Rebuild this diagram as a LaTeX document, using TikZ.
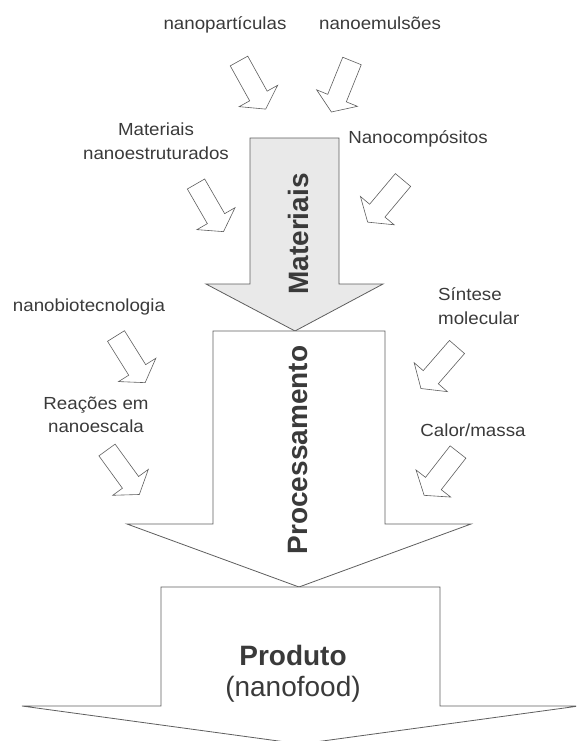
\documentclass[tikz,border=0pt]{standalone}
\usepackage{fontspec}
\setmainfont{Liberation Sans}
\newfontfamily\labelfont[FakeStretch=1.07]{Liberation Sans}
\usepackage{tikz}
\usetikzlibrary{positioning,calc}

\definecolor{txtgray}{HTML}{3A3A3A}
\definecolor{linegray}{HTML}{5E5E5E}
\definecolor{fillgray}{HTML}{E9E9E9}

\tikzset{
  lbl/.style={font=\labelfont\fontsize{17.5}{23.5}\selectfont, text=txtgray, inner sep=0pt},
  bigl/.style={font=\bfseries\fontsize{28}{31}\selectfont, text=txtgray, inner sep=0pt},
  bigarrow/.style={draw=linegray, line width=0.8pt, line join=miter},
  smallarrow/.style={draw=linegray, line width=0.6pt, fill=white}
}

\begin{document}
\begin{tikzpicture}[x=1pt,y=-1pt]
\useasboundingbox (0,0) rectangle (576,741);
\clip (0,0) rectangle (576,741);

% big arrows
\draw[bigarrow, fill=fillgray] (250,138) -- (339,138) -- (339,284) -- (383,284) -- (295,331) -- (206,284) -- (250,284) -- cycle;
\draw[bigarrow, fill=white] (213,331) -- (385,331) -- (385,524) -- (471,524) -- (299,587) -- (127,524) -- (213,524) -- cycle;
\draw[bigarrow, fill=white] (161,587) -- (440,587) -- (440,706) -- (579,706) -- (300.5,744) -- (22,706) -- (161,706) -- cycle;

% small hollow arrows
\foreach \tx/\ty/\ang in {239/61/-61, 352/61/-112, 196/184/-60, 403/180/-130,
                          116/336/-58, 107/450/-54, 457/347/-131, 458/452/-128}
  \draw[smallarrow, shift={(\tx,\ty)}, rotate=\ang]
    (0,-10) -- (40,-10) -- (40,-22) -- (55,0) -- (40,22) -- (40,10) -- (0,10) -- cycle;

% labels
\node[lbl, anchor=base] (npart) at (225,30) {nanopartículas};
\node[lbl, anchor=base] (nemul) at (380,30) {nanoemulsões};
\node[lbl, align=center] (matnano) at (156,141) {Materiais\\nanoestruturados};
\node[lbl, anchor=base] (ncomp) at (418,143) {Nanocompósitos};
\node[lbl, anchor=base] (nbio) at (89,311) {nanobiotecnologia};
\node[lbl, align=left, anchor=west] (sint) at (438,306) {Síntese\\molecular};
\node[lbl, align=center] (reac) at (96,415) {Reações em\\nanoescala};
\node[lbl, anchor=base] (calor) at (473,436) {Calor/massa};

\node[bigl, rotate=90] (mat) at (298,234) {Materiais};
\node[bigl, rotate=90] (proc) at (298,450) {Processamento};
\node[bigl, align=center] (prod) at (293,674) {Produto\\{\mdseries (nanofood)}};
\end{tikzpicture}
\end{document}
